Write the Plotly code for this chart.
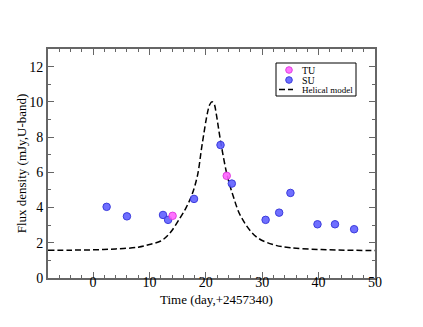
import plotly.graph_objects as go

# TU points
tu_x = [14.1, 23.7]
tu_y = [3.53, 5.8]

# SU points
su_x = [2.4, 6.0, 12.4, 13.3, 17.9, 22.6, 24.6, 30.6, 33.0, 35.0, 39.8, 42.9, 46.3]
su_y = [4.04, 3.5, 3.58, 3.3, 4.49, 7.55, 5.36, 3.3, 3.71, 4.83, 3.05, 3.05, 2.77]

# Helical model curve
model_x = [-8, -4, 0, 4, 8, 10, 12, 13.5, 15.4, 16.5, 17.5, 18.5, 19.3, 20.3, 20.7,
           21.1, 21.5, 21.8, 22.7, 23.8, 24.8, 26.2, 28.9, 32.1, 35, 40, 45, 50]
model_y = [1.57, 1.58, 1.6, 1.65, 1.75, 1.9, 2.1, 2.5, 3.4, 4.0, 4.7, 5.8, 7.5, 9.4, 9.85,
           10.0, 9.85, 9.4, 7.6, 5.8, 4.7, 3.5, 2.35, 1.88, 1.72, 1.62, 1.58, 1.56]

legend_names = ["TU", "SU", "Helical model"]

TU_FILL, TU_EDGE = "rgba(255,100,255,0.9)", "#e040e0"
SU_FILL, SU_EDGE = "rgba(95,95,255,0.9)", "#3c3cdc"
SERIF = "Liberation Serif"
AXC = "#666666"

fig = go.Figure()

fig.add_trace(go.Scatter(
    x=model_x, y=model_y, mode="lines", name="Helical model",
    line=dict(color="black", width=1.5, dash="6px,3px", shape="spline"),
))
fig.add_trace(go.Scatter(
    x=su_x, y=su_y, mode="markers", name="SU",
    marker=dict(color=SU_FILL, size=7.5, line=dict(color=SU_EDGE, width=1)),
))
fig.add_trace(go.Scatter(
    x=tu_x, y=tu_y, mode="markers", name="TU",
    marker=dict(color=TU_FILL, size=7.5, line=dict(color=TU_EDGE, width=1)),
))

axis_common = dict(
    showline=True, linecolor=AXC, linewidth=2, mirror="ticks",
    ticks="inside", ticklen=6, tickcolor=AXC, tickwidth=1,
    showgrid=False, zeroline=False,
    tickfont=dict(family=SERIF, size=14, color="black"),
)

fig.update_xaxes(
    range=[-8, 50], tick0=0, dtick=10,
    minor=dict(ticks="inside", ticklen=3, dtick=2, tick0=0, tickcolor=AXC),
    ticklabelstandoff=-10,
    **axis_common,
)
fig.update_yaxes(
    range=[0, 13], tick0=0, dtick=2,
    minor=dict(ticks="inside", ticklen=3, dtick=1, tick0=0, tickcolor=AXC),
    title=dict(text="Flux density (mJy,U-band)", font=dict(family=SERIF, size=13, color="black"), standoff=0),
    **axis_common,
)

W, H = 327.0, 229.0  # plot area in px

# x title as annotation so it can sit closer to the tick labels
fig.add_annotation(x=168 / W, y=-21.5 / H, xref="paper", yref="paper", text="Time (day,+2457340)",
                   showarrow=False, xanchor="center", yanchor="middle",
                   font=dict(family=SERIF, size=13, color="black"))

# hand-made compact legend (xmgrace style)
fig.add_shape(type="rect", xref="paper", yref="paper", x0=228 / W, x1=308 / W, y0=182 / H, y1=215 / H,
              line=dict(color="black", width=1), fillcolor="white", layer="above")
rows = [208 / H, 198 / H, 188.5 / H]
mx, r = 241 / W, 3.3
for yy, fill, edge in [(rows[0], TU_FILL, TU_EDGE), (rows[1], SU_FILL, SU_EDGE)]:
    fig.add_shape(type="circle", xref="paper", yref="paper",
                  x0=mx - r / W, x1=mx + r / W, y0=yy - r / H, y1=yy + r / H,
                  fillcolor=fill, line=dict(color=edge, width=1), layer="above")
fig.add_shape(type="line", xref="paper", yref="paper", x0=231 / W, x1=245 / W, y0=rows[2], y1=rows[2],
              line=dict(color="black", width=1.5, dash="6px,3px"), layer="above")
for yy, name in zip(rows, legend_names):
    fig.add_annotation(x=252 / W, y=yy, xref="paper", yref="paper", text=name, showarrow=False,
                       xanchor="left", yanchor="middle",
                       font=dict(family=SERIF, size=10 if name != "Helical model" else 9, color="black"))

# page body has an 8px margin, so the plot is shifted by that much
fig.update_layout(
    width=423, height=327,
    margin=dict(l=40, r=56, t=41, b=57),
    plot_bgcolor="white", paper_bgcolor="white",
    showlegend=False,
)

fig.write_html("out.html")
